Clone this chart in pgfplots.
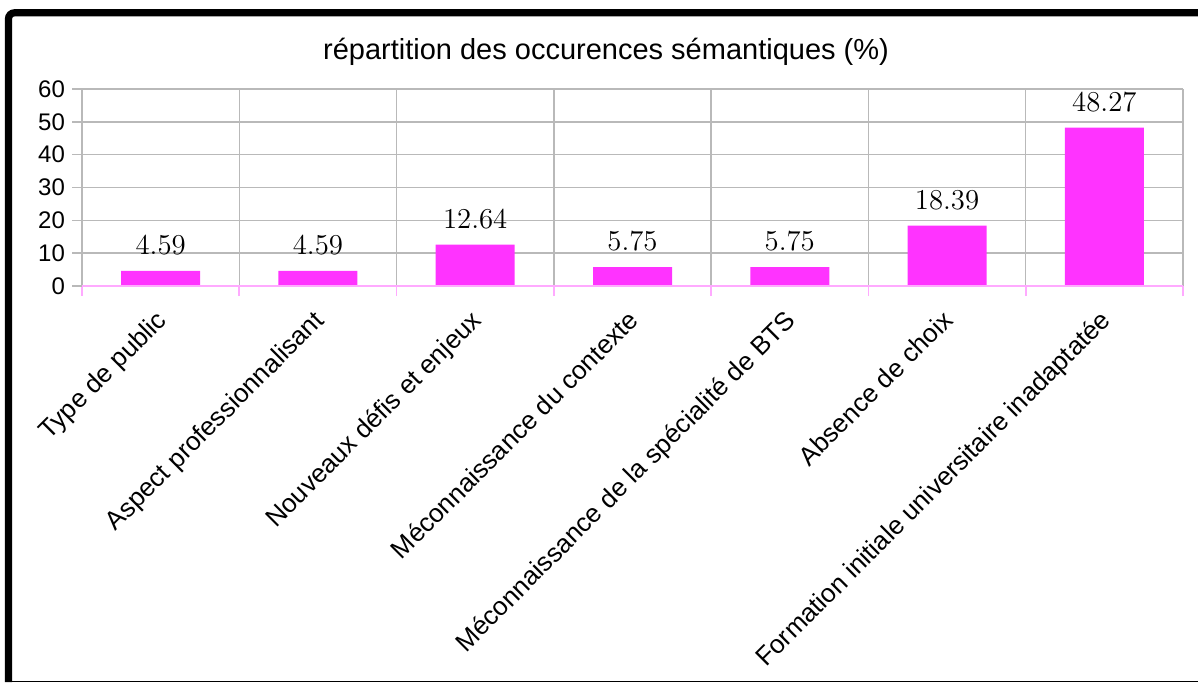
\documentclass[border=0pt]{standalone}
\usepackage{fontspec}
\setmainfont{Liberation Sans}
\usepackage{pgfplots}
\pgfplotsset{compat=1.18}
\definecolor{barpink}{RGB}{255,51,255}
\definecolor{axpink}{RGB}{255,170,255}
\definecolor{gridgray}{RGB}{185,185,185}

\begin{document}
\begin{tikzpicture}
% page frame (1px = 0.5pt)
\path[use as bounding box] (0pt,0pt) rectangle (599pt,341pt);
\draw[line width=3.6pt, rounded corners=3pt] (4.25pt,0pt) -- (4.25pt,334.6pt) -- (599pt,334.6pt);
\draw[line width=0.6pt] (4.25pt,0.3pt) -- (599pt,0.3pt);

\begin{axis}[
  at={(41pt,198pt)}, anchor=south west,
  scale only axis, width=550.5pt, height=98.5pt,
  xmin=-0.5, xmax=6.5, ymin=0, ymax=60,
  ybar, bar width=39.5pt,
  axis line style={draw=none},
  tick pos=left,
  tick align=outside,
  major tick length=5pt, minor tick length=5pt,
  xtick={0,...,6},
  xticklabels={Type de public, Aspect professionnalisant, Nouveaux défis et enjeux,
    Méconnaissance du contexte, Méconnaissance de la spécialité de BTS,
    Absence de choix, Formation initiale universitaire inadaptatée},
  every major x tick/.append style={draw=none},
  minor xtick={-0.5,0.5,...,6.5},
  every minor x tick/.append style={axpink, line width=0.8pt},
  xminorgrids, minor grid style={gridgray, line width=0.7pt},
  ymajorgrids, major grid style={gridgray, line width=0.7pt},
  every major y tick/.append style={gridgray, line width=0.7pt},
  ytick={0,10,...,60}, yticklabels={0,10,20,30,40,50,60},
  yticklabel style={font=\fontsize{12}{14}\selectfont},
  xticklabel style={xshift=-3pt, yshift=-6pt, rotate=45, anchor=north east,
    inner sep=0pt, font=\fontsize{13}{15.6}\selectfont},
  nodes near coords,
  every node near coord/.append style={font=\fontsize{13.5}{16}\selectfont,
    inner sep=0pt, yshift=8pt, black},
]
\addplot[fill=barpink, draw=none] coordinates {
  (0,4.59) (1,4.59) (2,12.64) (3,5.75) (4,5.75) (5,18.39) (6,48.27)
};
\draw[axpink, line width=0.8pt] (axis cs:-0.5,0) -- (axis cs:6.5,0);
\end{axis}

\node[font=\fontsize{14.5}{17}\selectfont] at (303pt,315pt) {répartition des occurences sémantiques (\%)};
\end{tikzpicture}
\end{document}
